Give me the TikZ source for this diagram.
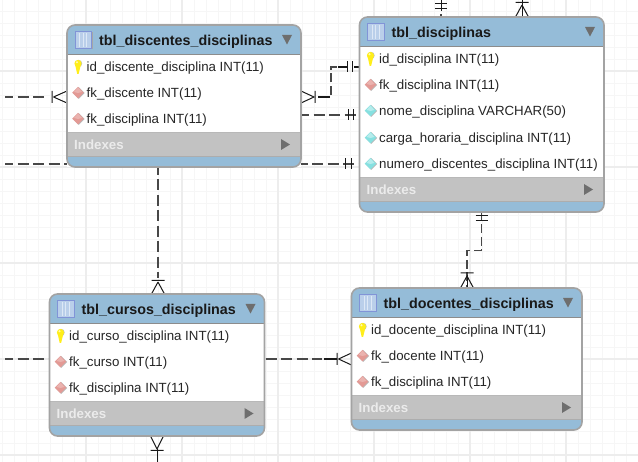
\documentclass[tikz,border=0pt]{standalone}
\usepackage{fontspec}
\setmainfont{Liberation Sans}
\definecolor{hdr}{HTML}{95BCD8}
\definecolor{idx}{HTML}{C2C2C2}
\definecolor{edge}{HTML}{A3A3A3}
\definecolor{gridminor}{HTML}{F6F6F6}
\definecolor{gridmajor}{HTML}{EDEDED}
\definecolor{relc}{HTML}{484848}
\definecolor{tri}{HTML}{6E6E6E}
\definecolor{iconfill}{HTML}{BACFEA}
\definecolor{iconline}{HTML}{DDE8F6}
\definecolor{icontop}{HTML}{3A4CC0}
\definecolor{fkc}{HTML}{E39A95}
\definecolor{colc}{HTML}{86E0E0}
\tikzset{
  rel/.style={draw=relc,line width=1.2pt,dash pattern=on 11pt off 4.5pt,dash phase=3pt},
  relshort/.style={draw=relc,line width=1.1pt,dash pattern=on 9pt off 3.5pt},
  orn/.style={draw=black!90,line width=1pt},
  tablebox/.style={rectangle,inner sep=0pt,outer sep=0pt,anchor=north west,fill=white},
  titletxt/.style={anchor=base west,inner sep=0pt,font=\fontsize{14.3}{16}\selectfont\bfseries,text=black!90},
  rowtxt/.style={anchor=base west,inner sep=0pt,font=\fontsize{13.3}{15}\selectfont,text=black!85},
  idxtxt/.style={anchor=base west,inner sep=0pt,font=\fontsize{13.3}{15}\selectfont\bfseries,text=white!92!black},
}
\newcommand\ertable[6]{%
\begin{scope}[shift={(#2,#3)}]
  \node[tablebox,minimum width=#4pt,minimum height=#5pt] (#1) at (0,0) {};
  \begin{scope}
    \clip[rounded corners=8pt] (0,0) rectangle (#4,#5);
    \fill[hdr] (0,0) rectangle (#4,29);
    \fill[hdr] (0,#5-10) rectangle (#4,#5);
    \fill[idx] (0,#5-35) rectangle (#4,#5-10);
    \draw[black!28,line width=.8pt] (0,#5-35) -- (#4,#5-35);
    \draw[black!32,line width=1pt] (0,#5-10) -- (#4,#5-10);
    \draw[black!45,line width=.7pt] (0,29) -- (#4,29);
  \end{scope}
  \draw[edge,line width=1.6pt,rounded corners=8pt] (0,0) rectangle (#4,#5);
  % table icon
  \fill[black!35] (8.5,7) rectangle (25.5,24);
  \fill[iconfill] (8,6) rectangle (24.5,23);
  \fill[icontop] (8,6) rectangle (24.5,7.4);
  \draw[icontop!45!iconfill,line width=.5pt] (8,6) rectangle (24.5,23);
  \draw[iconline,line width=.7pt] (12.8,8) -- (12.8,22) (16.2,8) -- (16.2,22) (19.6,8) -- (19.6,22);
  \node[titletxt] (#1-title) at (32,21) {#6};
  \fill[tri] (#4-19,10) -- (#4-9,10) -- (#4-14,19.5) -- cycle;
  \node[idxtxt] (#1-idx) at (7,#5-17.5) {Indexes};
  \fill[tri] (#4-20,#5-28) -- (#4-11,#5-22.5) -- (#4-20,#5-17) -- cycle;
\end{scope}}
\newcommand\erkey{%
  \begin{scope}[shift={(0,-4.5)}]
  \fill[black!25] (11.6,38) circle (3.6);
  \fill[yellow!95!orange!90!white] (11,38) circle (3.6);
  \fill[yellow!95!orange!90!white] (8.2,39.5) -- (13.8,39.5) -- (11.6,48.5) -- (10.2,48.5) -- cycle;
  \fill[yellow!30!white] (10,36.8) circle (1.1);
  \end{scope}}
\newcommand\erfk{%
  \fill[black!28] (11.7,42.9) -- (17.6,37) -- (11.7,31.1) -- (5.8,37) -- cycle;
  \fill[fkc] (11,42.5) -- (16.8,36.6) -- (11,30.8) -- (5.2,36.6) -- cycle;
  \fill[white,opacity=.25] (11,31.5) -- (15,36) -- (11,37) -- (7,36) -- cycle;}
\newcommand\ercol{%
  \fill[black!28] (11.7,42.9) -- (17.6,37) -- (11.7,31.1) -- (5.8,37) -- cycle;
  \fill[colc] (11,42.5) -- (16.8,36.6) -- (11,30.8) -- (5.2,36.6) -- cycle;
  \fill[white,opacity=.4] (11,31.5) -- (15,36) -- (11,37) -- (7,36) -- cycle;}
\newcommand\errow[6]{%
\begin{scope}[shift={(#1,#2+#3)}]
  \begin{scope}[shift={(0,-37)}]#4\end{scope}
  \node[rowtxt] (#5) at (19.5,5) {#6};
\end{scope}}
\newcommand\crowH[4]{%
  \draw[orn] (#1,#2) -- (#3,#2-6) (#1,#2) -- (#3,#2+6) (#4,#2-6) -- (#4,#2+6);}
\newcommand\crowV[4]{%
  \draw[orn] (#1,#2) -- (#1-6.5,#3) (#1,#2) -- (#1+6.5,#3) (#1-6.5,#4) -- (#1+6.5,#4);}
\newcommand\barH[2]{\draw[orn] (#1,#2-5.5) -- (#1,#2+5.5);}
\newcommand\barV[2]{\draw[orn] (#1-6,#2) -- (#1+6,#2);}
\begin{document}
\begin{tikzpicture}[x=1pt,y=-1pt]
\useasboundingbox (0,0) rectangle (638,462);
\fill[white] (0,0) rectangle (638,462);
% grid
\foreach \g in {2,14,...,638} \draw[gridminor,line width=.8pt] (\g,0) -- (\g,462);
\foreach \g in {11,23,...,462} \draw[gridminor,line width=.8pt] (0,\g) -- (638,\g);
\foreach \g in {86,182,278,374,470,566} \draw[gridmajor,line width=1.4pt] (\g,0) -- (\g,462);
\foreach \g in {71,167,263,359,455} \draw[gridmajor,line width=1.4pt] (0,\g) -- (638,\g);
% free ends and attachment points
\coordinate (freeA) at (5,97);
\coordinate (freeB) at (5,164);
\coordinate (freeC) at (5,359);
\coordinate (freeD) at (441,0);
\coordinate (freeE) at (522,0);
\coordinate (freeF) at (157,462);
\coordinate (mainW) at (359.5,17);
\coordinate (mainS) at (481.5,212);
\coordinate (docW) at (351.5,359);
\coordinate (docN) at (467,288);
% connectors behind the tables
\path[rel] (freeA) -- (47,97);
\crowH{53.5}{97}{67}{52}
\path[rel] (freeB) -- (mainW |- freeB);
\barH{345}{164}\barH{351}{164}
\path[rel] (158,167) -- (158,278);
\crowV{158}{282}{294}{280.5}
\path[rel] (freeC) -- (322,359);
\draw[orn,line width=1.1pt] (324,359) -- (337,359);
\crowH{338.5}{359}{351.5}{337}
\path[rel] (301,115) -- (mainW |- 0,115);
\barH{348}{115}\barH{353}{115}
\draw[orn,line width=1.1pt] (318,97) -- (330,97);
\path[relshort] (331,95) -- (331,67) -- (347,67);
\draw[orn,line width=1.1pt] (338,67) -- (347,67) (354,67) -- (359,67);
\barH{347}{67}\barH{352}{67}
\crowH{314}{97}{301}{315}
\path[relshort] (mainS) -- (481.5,250.5) -- (467,250.5) -- (docN);
\barV{481.5}{215.5}\barV{481.5}{220.5}
\crowV{467}{276}{288}{273}
\draw[orn] (467,275) -- (467,288);
\draw[orn] (freeD) -- (441,11);
\draw[relc,line width=1.1pt] (441,14.5) -- (441,17);
\barV{441}{4}\barV{441}{9}
\draw[orn] (freeE) -- (522,17);
\crowV{522}{5}{17}{2.5}
\draw[orn] (freeF) -- (157,449);
\crowV{157}{449}{436}{450.5}
% tables
\ertable{tdisc}{67}{25}{234}{142}{tbl\_discentes\_disciplinas}
\errow{67}{25}{42}{\erkey}{r11}{id\_discente\_disciplina INT(11)}
\errow{67}{25}{68}{\erfk}{r12}{fk\_discente INT(11)}
\errow{67}{25}{94}{\erfk}{r13}{fk\_disciplina INT(11)}
\ertable{tmain}{359.5}{17}{244.5}{195}{tbl\_disciplinas}
\errow{359.5}{17}{42}{\erkey}{r21}{id\_disciplina INT(11)}
\errow{359.5}{17}{68}{\erfk}{r22}{fk\_disciplina INT(11)}
\errow{359.5}{17}{94}{\ercol}{r23}{nome\_disciplina VARCHAR(50)}
\errow{359.5}{17}{121}{\ercol}{r24}{carga\_horaria\_disciplina INT(11)}
\errow{359.5}{17}{147}{\ercol}{r25}{numero\_discentes\_disciplina INT(11)}
\ertable{tcurs}{49.5}{294}{215}{142}{tbl\_cursos\_disciplinas}
\errow{49.5}{294}{42}{\erkey}{r31}{id\_curso\_disciplina INT(11)}
\errow{49.5}{294}{68}{\erfk}{r32}{fk\_curso INT(11)}
\errow{49.5}{294}{94}{\erfk}{r33}{fk\_disciplina INT(11)}
\ertable{tdoc}{351.5}{288}{230.5}{142}{tbl\_docentes\_disciplinas}
\errow{351.5}{288}{42}{\erkey}{r41}{id\_docente\_disciplina INT(11)}
\errow{351.5}{288}{68}{\erfk}{r42}{fk\_docente INT(11)}
\errow{351.5}{288}{94}{\erfk}{r43}{fk\_disciplina INT(11)}
\end{tikzpicture}
\end{document}
